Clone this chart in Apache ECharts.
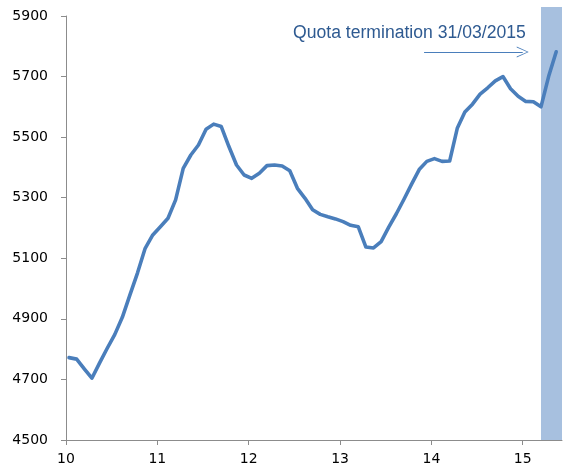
<!DOCTYPE html>
<html>
<head>
<meta charset="utf-8">
<script src="https://cdn.jsdelivr.net/npm/echarts@6/dist/echarts.min.js"></script>
<style>html,body{margin:0;padding:0;background:#fff;}#c{width:564px;height:475px;}</style>
</head>
<body>
<div id="c"></div>
<script>
// Monthly values, Jan 2010 .. May 2015
const startYear = 10;
const values = [4772,4767,4735,4704,4754,4802,4848,4905,4979,5052,5133,5177,
  5204,5232,5293,5397,5441,5474,5526,5543,5535,5469,5408,5375,
  5364,5381,5406,5408,5405,5389,5331,5298,5260,5245,5237,5230,
  5221,5209,5204,5137,5134,5155,5203,5247,5295,5345,5393,5420,
  5429,5420,5421,5529,5583,5609,5642,5663,5686,5700,5660,5635,
  5618,5617,5600,5700,5782];
const xTicks = [10,11,12,13,14,15];
const yTicks = [4500,4700,4900,5100,5300,5500,5700,5900];
const bandRange = [15.2, 15.43];
const arrowRange = [13.92, 15.0];
const arrowLevel = 5781;
const annotation = 'Quota termination 31/03/2015';

const xMin = 10, xMax = 15.43;
const seriesData = values.map((v, i) => [startYear + (i + 0.4) / 12, v]);

const chart = echarts.init(document.getElementById('c'));
const axisColor = '#8c8c8c';
chart.setOption({
  animation: false,
  title: {
    text: annotation, left: 293, top: 24, padding: 0,
    textStyle: {fontFamily: 'Liberation Sans', fontSize: 17.6, fontWeight: 'normal', color: '#2e5a91'}
  },
  grid: [
    {left: 66, right: 2, top: 16, bottom: 35},
    {left: 66, right: 2, top: 7, bottom: 35}
  ],
  xAxis: [
    {
      type: 'value', gridIndex: 0, min: xMin, max: xMax, interval: 1,
      splitLine: {show: false},
      axisLine: {lineStyle: {color: axisColor, width: 1}},
      axisTick: {show: true, length: 5, lineStyle: {color: axisColor}, customValues: xTicks},
      axisLabel: {customValues: xTicks, margin: 12, color: '#000', fontFamily: 'DejaVu Sans', fontSize: 14}
    },
    {type: 'value', gridIndex: 1, min: xMin, max: xMax, show: false}
  ],
  yAxis: [
    {
      type: 'value', gridIndex: 0, min: 4500, max: 5900, interval: 200,
      splitLine: {show: false},
      axisLine: {show: true, lineStyle: {color: axisColor, width: 1}},
      axisTick: {show: true, length: 5, lineStyle: {color: axisColor}, customValues: yTicks},
      axisLabel: {customValues: yTicks, margin: 18, color: '#000', fontFamily: 'DejaVu Sans', fontSize: 14,
        formatter: v => String(v)}
    },
    {type: 'value', gridIndex: 1, min: 0, max: 1, show: false}
  ],
  series: [
    {
      type: 'line', xAxisIndex: 1, yAxisIndex: 1, z: 1,
      data: [[bandRange[0], 0]], symbol: 'none', lineStyle: {opacity: 0}, silent: true,
      markArea: {
        silent: true,
        itemStyle: {color: '#a7c0df', opacity: 1},
        data: [[{xAxis: bandRange[0], yAxis: 0}, {xAxis: bandRange[1], yAxis: 1}]]
      }
    },
    {
      type: 'line', xAxisIndex: 0, yAxisIndex: 0, z: 5,
      data: seriesData, symbol: 'none', smooth: false,
      lineStyle: {color: '#4a7ebb', width: 3.6, join: 'round', cap: 'round'},
      markLine: {
        silent: true, animation: false,
        symbol: ['none', 'path://M0,12 L6,0 L12,12 L11,12 L6,1.6 L1,12 Z'],
        symbolSize: [11, 12],
        label: {show: false},
        lineStyle: {color: '#4a7ebb', width: 1, type: 'solid'},
        itemStyle: {color: '#4a7ebb'},
        data: [[{coord: [arrowRange[0], arrowLevel]}, {coord: [arrowRange[1], arrowLevel]}]]
      }
    }
  ]
});
</script>
</body>
</html>
